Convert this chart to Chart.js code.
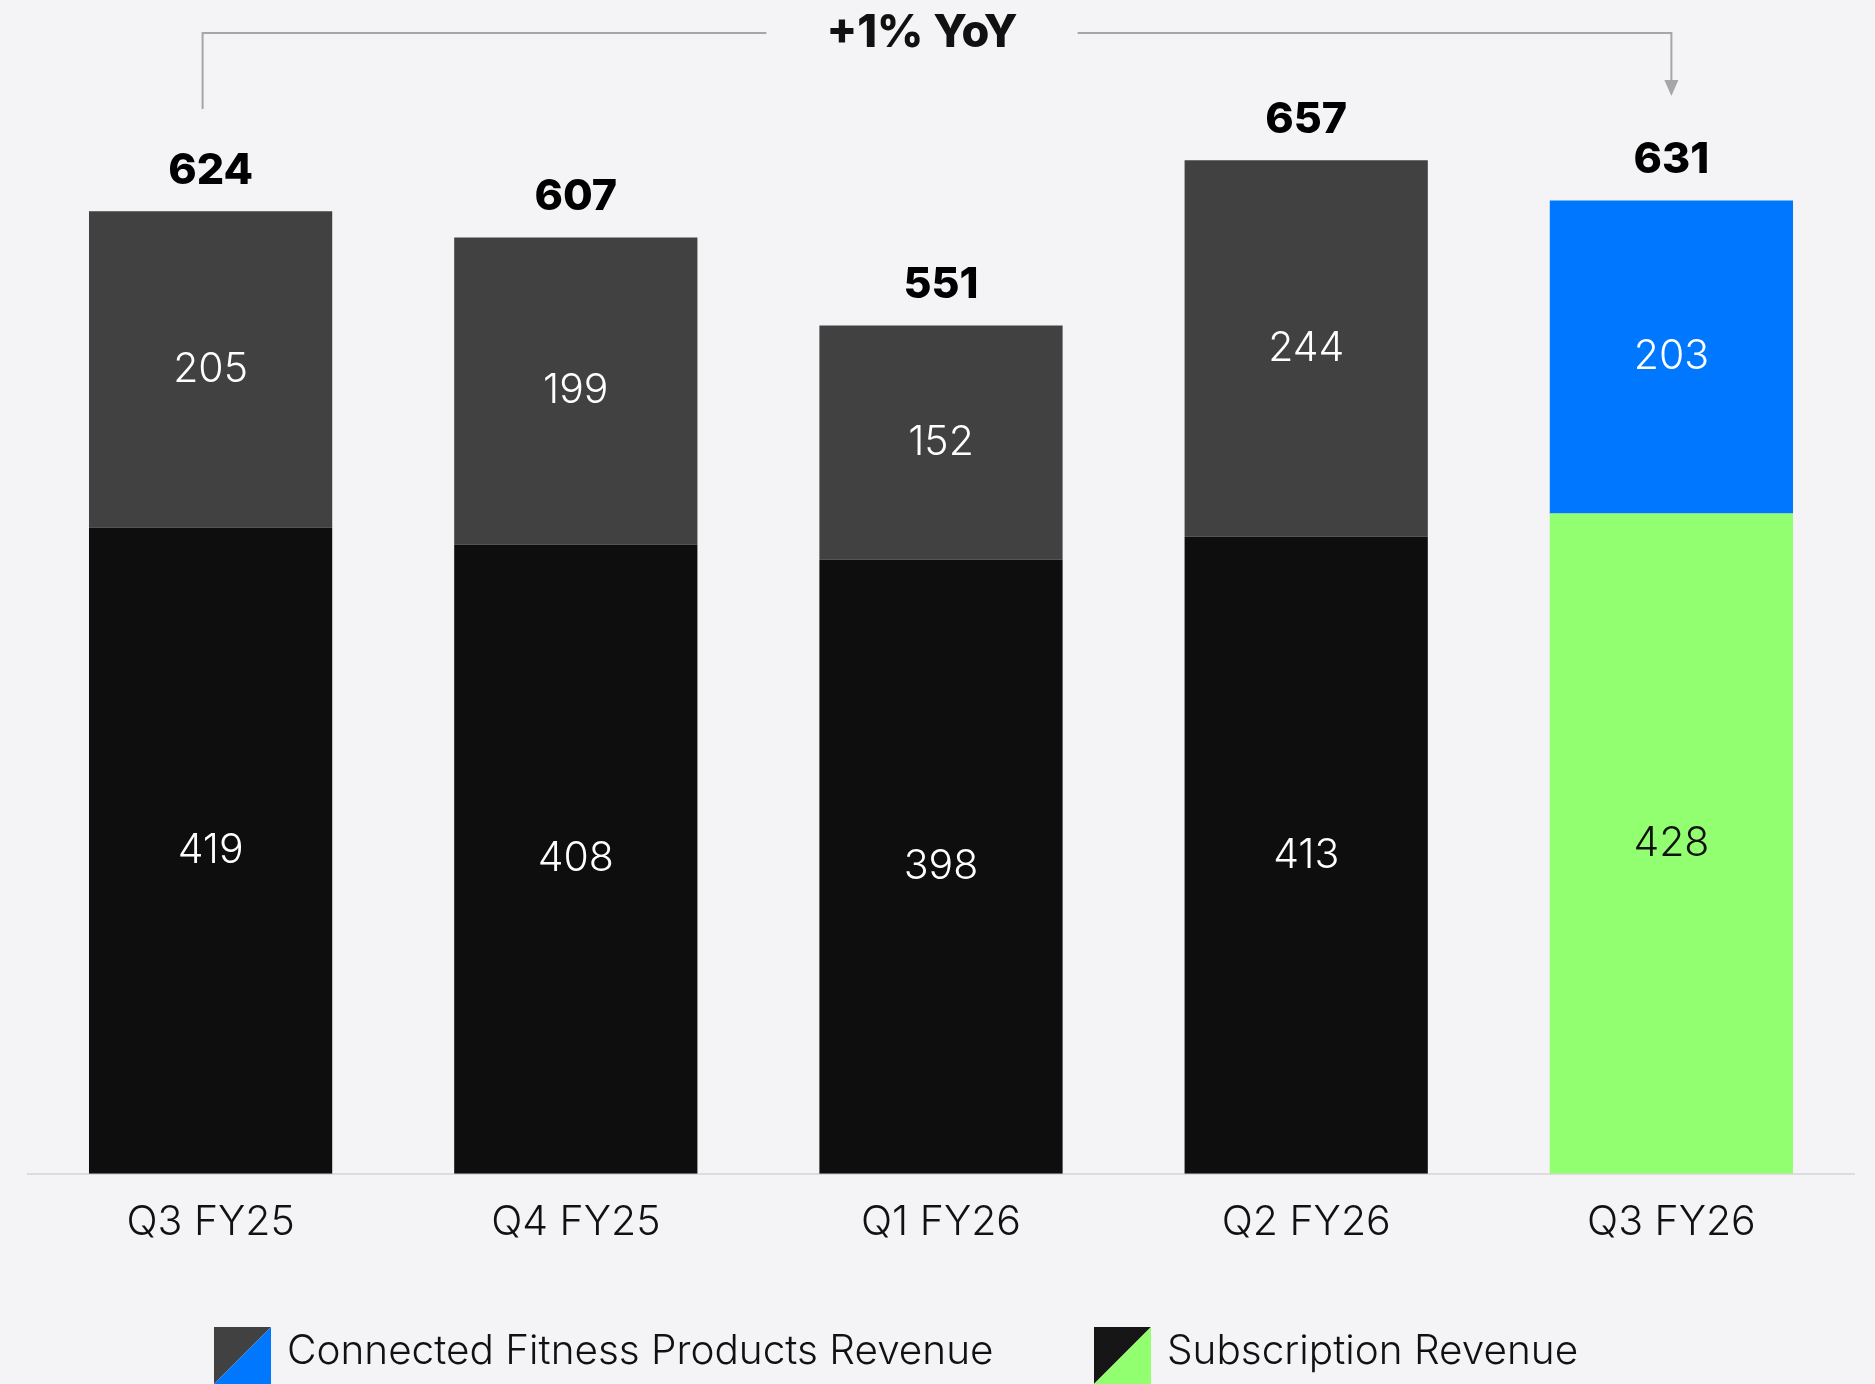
<!DOCTYPE html>
<html>
<head>
<meta charset="utf-8">
<script src="https://cdn.jsdelivr.net/npm/chart.js@4.4.1/dist/chart.umd.min.js"></script>
<style>
  html, body { margin: 0; padding: 0; background: #f4f3f6; }
  #wrap { width: 1875px; height: 1384px; }
</style>
</head>
<body>
<div id="wrap"><canvas id="revenueChart" width="1875" height="1384"></canvas></div>
<script>
const quarters = ['Q3 FY25', 'Q4 FY25', 'Q1 FY26', 'Q2 FY26', 'Q3 FY26'];
const subscription = [419, 408, 398, 413, 428];
const products = [205, 199, 152, 244, 203];
const totals = [624, 607, 551, 657, 631];
const yoyText = '+1% YoY';
const legendNames = ['Connected Fitness Products Revenue', 'Subscription Revenue'];

const GREY = '#414141';
const BLACK = '#0e0e0e';
const BLUE = '#0077ff';
const GREEN = '#91ff6f';
const FONT = 'Inter, "Noto Sans", sans-serif';

// latest quarter is highlighted in colour, the rest stay dark
const last = quarters.length - 1;
const subColors = quarters.map((q, i) => i === last ? GREEN : BLACK);
const prodColors = quarters.map((q, i) => i === last ? BLUE : GREY);

// numbers inside each segment
const segmentLabels = {
  id: 'segmentLabels',
  afterDatasetsDraw(chart) {
    const ctx = chart.ctx;
    ctx.save();
    ctx.font = '300 41px ' + FONT;
    ctx.textAlign = 'center';
    ctx.textBaseline = 'middle';
    chart.data.datasets.forEach((ds, di) => {
      chart.getDatasetMeta(di).data.forEach((bar, i) => {
        const onGreen = ds.backgroundColor[i] === GREEN;
        ctx.fillStyle = onGreen ? '#111111' : '#ffffff';
        ctx.fillText(String(ds.data[i]), bar.x, (bar.y + bar.base) / 2);
      });
    });
    ctx.restore();
  }
};

// bold totals above each stack
const totalLabels = {
  id: 'totalLabels',
  afterDatasetsDraw(chart) {
    const ctx = chart.ctx;
    const topMeta = chart.getDatasetMeta(1);
    ctx.save();
    ctx.font = '800 43px ' + FONT;
    ctx.fillStyle = '#000000';
    ctx.textAlign = 'center';
    ctx.textBaseline = 'alphabetic';
    topMeta.data.forEach((bar, i) => {
      ctx.fillText(String(totals[i]), bar.x, bar.y - 27);
    });
    ctx.restore();
  }
};

// year-over-year bracket from the first to the last quarter
const yoyBracket = {
  id: 'yoyBracket',
  afterDraw(chart) {
    const ctx = chart.ctx;
    const x = chart.scales.x;
    const x0 = x.getPixelForValue(0) - 8;
    const x1 = x.getPixelForValue(last);
    const lineY = 33;
    const mid = (x0 + x1) / 2 - 15;
    ctx.save();
    ctx.font = '800 45px ' + FONT;
    const half = ctx.measureText(yoyText).width / 2 + 60;
    ctx.strokeStyle = '#a6a6a6';
    ctx.lineWidth = 2;
    ctx.beginPath();
    ctx.moveTo(x0, 109);
    ctx.lineTo(x0, lineY);
    ctx.lineTo(mid - half, lineY);
    ctx.moveTo(mid + half, lineY);
    ctx.lineTo(x1, lineY);
    ctx.lineTo(x1, 82);
    ctx.stroke();
    ctx.fillStyle = '#a6a6a6';
    ctx.beginPath();
    ctx.moveTo(x1 - 7, 80);
    ctx.lineTo(x1 + 7, 80);
    ctx.lineTo(x1, 96);
    ctx.closePath();
    ctx.fill();
    ctx.fillStyle = '#111111';
    ctx.textAlign = 'center';
    ctx.textBaseline = 'middle';
    ctx.fillText(yoyText, mid, lineY);
    ctx.restore();
  }
};

// legend with split swatches (dark / highlight colour)
const splitLegend = {
  id: 'splitLegend',
  afterDraw(chart) {
    const ctx = chart.ctx;
    const items = [
      { x: 214, dark: GREY, light: BLUE, text: legendNames[0] },
      { x: 1094, dark: '#161616', light: GREEN, text: legendNames[1] }
    ];
    const top = 1327, size = 57;
    ctx.save();
    items.forEach(it => {
      ctx.fillStyle = it.dark;
      ctx.beginPath();
      ctx.moveTo(it.x, top);
      ctx.lineTo(it.x + size, top);
      ctx.lineTo(it.x, top + size);
      ctx.closePath();
      ctx.fill();
      ctx.fillStyle = it.light;
      ctx.beginPath();
      ctx.moveTo(it.x + size, top);
      ctx.lineTo(it.x + size, top + size);
      ctx.lineTo(it.x, top + size);
      ctx.closePath();
      ctx.fill();
      ctx.fillStyle = '#111111';
      ctx.font = '300 40.5px ' + FONT;
      ctx.textAlign = 'left';
      ctx.textBaseline = 'middle';
      ctx.fillText(it.text, it.x + size + 16, 1352);
    });
    ctx.restore();
  }
};

const config = {
  type: 'bar',
  data: {
    labels: quarters,
    datasets: [{
      label: legendNames[1],
      data: subscription,
      backgroundColor: subColors,
      borderWidth: 0
    }, {
      label: legendNames[0],
      data: products,
      backgroundColor: prodColors,
      borderWidth: 0
    }]
  },
  options: {
    responsive: false,
    animation: false,
    categoryPercentage: 1,
    barPercentage: 0.666,
    layout: {
      padding: { top: 94, bottom: 113, left: 28, right: 21 }
    },
    plugins: {
      legend: { display: false },
      tooltip: { enabled: false }
    },
    scales: {
      x: {
        stacked: true,
        grid: { display: false, drawTicks: false },
        border: { display: true, color: '#dcdbdd', width: 2 },
        ticks: {
          color: '#111111',
          font: { family: FONT, size: 41, weight: 300 },
          padding: 24,
          maxRotation: 0,
          autoSkip: false
        }
      },
      y: {
        stacked: true,
        display: false,
        min: 0,
        max: 700
      }
    }
  },
  plugins: [segmentLabels, totalLabels, yoyBracket, splitLegend]
};

window.onload = function() {
  const ctx = document.getElementById('revenueChart').getContext('2d');
  new Chart(ctx, config);
};
</script>
</body>
</html>
